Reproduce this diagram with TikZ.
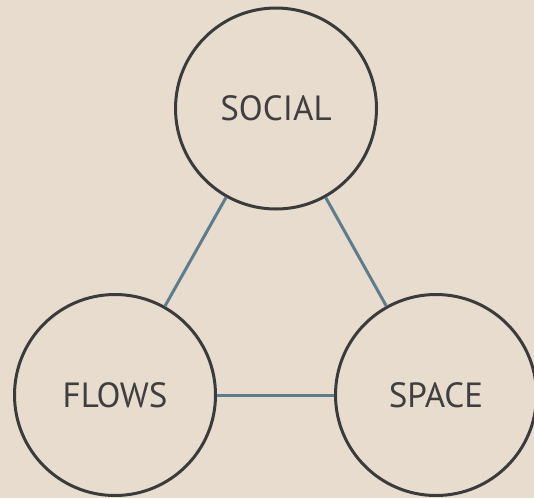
\documentclass[tikz,border=0pt]{standalone}
\usepackage{fontspec}
\setmainfont{PT Sans}
\definecolor{bg}{HTML}{E8DCCF}
\definecolor{ring}{HTML}{3B3B3B}
\definecolor{link}{HTML}{5E7D8C}
\definecolor{label}{HTML}{3F3F3F}
\begin{document}
\begin{tikzpicture}[x=1pt,y=-1pt,
  topic/.style={circle, draw=ring, line width=3pt, minimum size=201pt,
    inner sep=0pt, text=label, font=\fontsize{35}{40}\selectfont},
  tie/.style={draw=link, line width=3pt}]
  \fill[bg] (0,0) rectangle (534,498);
  \useasboundingbox (0,0) rectangle (534,498);
  \node[topic] (social) at (276,108.5) {SOCIAL};
  \node[topic] (flows) at (115,395) {FLOWS};
  \node[topic] (space) at (436,395) {SPACE};
  \draw[tie] (social) -- (flows);
  \draw[tie] (social) -- (space);
  \draw[tie] (flows) -- (space);
\end{tikzpicture}
\end{document}
